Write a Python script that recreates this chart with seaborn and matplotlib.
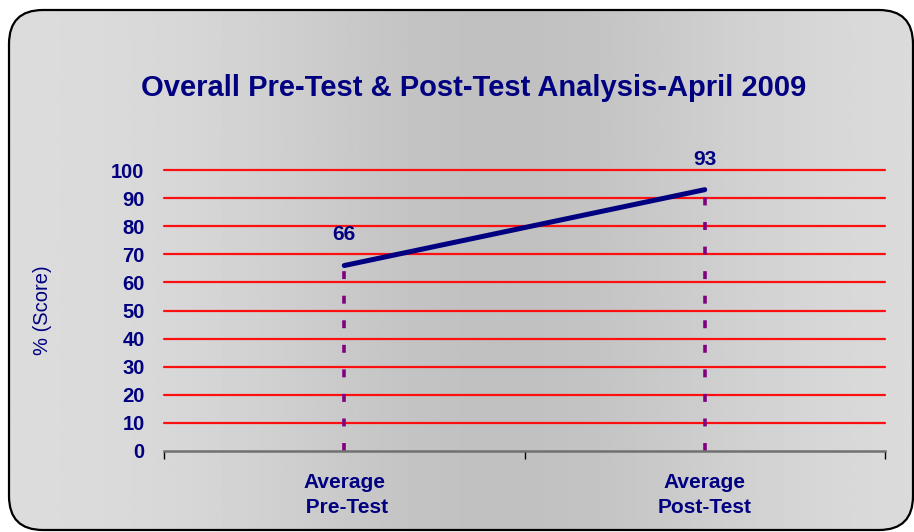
import numpy as np
import pandas as pd
import matplotlib.pyplot as plt
import matplotlib.patches as mpatches
import seaborn as sns

# ── Data ──────────────────────────────────────────────────────────────────────
categories = ["Average\n Pre-Test", "Average\nPost-Test"]
scores     = [66, 93]
y_ticks    = list(range(0, 101, 10))

NAVY   = "#000080"
PURPLE = "#800080"
RED    = "#ff1010"

sns.set_style("white")
plt.rcParams["font.family"] = ["Liberation Sans", "DejaVu Sans"]

fig = plt.figure(figsize=(9.14, 5.32), dpi=100)
fig.patch.set_facecolor("white")

# ── Background panel: rounded frame with horizontal gradient ─────────────────
bg = fig.add_axes([0, 0, 1, 1])
bg.set_xlim(0, 914); bg.set_ylim(532, 0)
bg.axis("off")
xs = np.linspace(0, 1, 400)
shade = 0.865 - 0.11 * np.exp(-((xs - 0.55) / 0.28) ** 2)
grad = np.tile(shade, (10, 1))
frame = mpatches.FancyBboxPatch((9, 10), 904, 520,
                                boxstyle="round,pad=0,rounding_size=34",
                                facecolor="none", edgecolor="black",
                                linewidth=1.6, zorder=3)
bg.add_patch(frame)
im = bg.imshow(grad, cmap="gray", vmin=0, vmax=1, aspect="auto",
               extent=(0, 914, 532, 0), zorder=1)
im.set_clip_path(frame)

# ── Chart ─────────────────────────────────────────────────────────────────────
ax = fig.add_axes([164 / 914, 1 - 451 / 532, (885 - 164) / 914, (451 - 170) / 532])
ax.patch.set_alpha(0)

df = pd.DataFrame({"test": categories, "score": scores})
pos = np.arange(len(categories))

for y in y_ticks[1:]:
    ax.axhline(y, color=RED, linewidth=1.6, zorder=1, clip_on=False)

ax.vlines(pos, 0, df["score"], colors=PURPLE, linewidth=2.6,
          linestyles=(0, (2.2, 4.6)), zorder=2)
sns.lineplot(x=pos, y=df["score"], color=NAVY, linewidth=3.6, ax=ax,
             zorder=3, sort=False)

for p, v in zip(pos, scores):
    ax.text(p, v + 7.5, f"{v}", ha="center", va="bottom", fontsize=15,
            fontweight="bold", color=NAVY)

ax.set_xlim(-0.5, len(categories) - 0.5)
ax.set_ylim(0, 100)
ax.set_yticks(y_ticks)
ax.set_yticklabels([str(t) for t in y_ticks], fontsize=14.5,
                   fontweight="bold", color=NAVY)
ax.tick_params(axis="y", length=0, pad=14)

ax.set_xticks(pos)
ax.set_xticklabels(df["test"], fontsize=15, fontweight="bold",
                   color=NAVY, linespacing=1.4)
ax.tick_params(axis="x", which="major", length=0, pad=16)
ax.set_xticks([-0.5, 0.5, 1.5], minor=True)
ax.tick_params(axis="x", which="minor", bottom=True, length=6, width=1,
               color="black", direction="out")

for s in ["left", "right", "top"]:
    ax.spines[s].set_visible(False)
ax.spines["bottom"].set_color("#707070")
ax.spines["bottom"].set_linewidth(1.8)

ax.set_ylabel("% (Score)", fontsize=14.5, color=NAVY)
ax.yaxis.set_label_coords((52 - 164) / 721, 0.5)
ax.set_xlabel("")

fig.text(474 / 914, 1 - 88 / 532,
         "Overall Pre-Test & Post-Test Analysis-April 2009",
         ha="center", va="center", fontsize=21, fontweight="bold", color=NAVY)

fig.savefig("out.png", dpi=100)
